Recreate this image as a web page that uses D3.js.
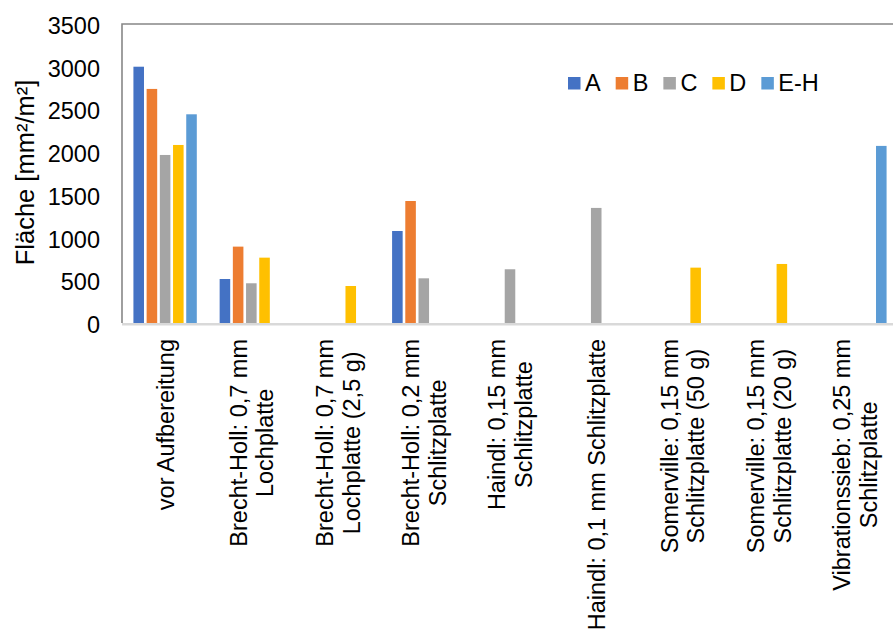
<!DOCTYPE html>
<html>
<head>
<meta charset="utf-8">
<script src="https://cdn.jsdelivr.net/npm/d3@7"></script>
<style>
  html, body { margin: 0; padding: 0; background: #fff; }
  svg { display: block; font-family: "Liberation Sans", Arial, sans-serif; }
</style>
</head>
<body>
<svg id="chart" width="893" height="633"></svg>
<script>
// Categories (line breaks as in the axis labels)
const categories = [
  "vor Aufbereitung",
  "Brecht-Holl: 0,7 mm\nLochplatte",
  "Brecht-Holl: 0,7 mm\nLochplatte (2,5 g)",
  "Brecht-Holl: 0,2 mm\nSchlitzplatte",
  "Haindl: 0,15 mm\nSchlitzplatte",
  "Haindl: 0,1 mm Schlitzplatte",
  "Somerville: 0,15 mm\nSchlitzplatte (50 g)",
  "Somerville: 0,15 mm\nSchlitzplatte (20 g)",
  "Vibrationssieb: 0,25 mm\nSchlitzplatte"
];

const seriesNames = ["A", "B", "C", "D", "E-H"];
const seriesColors = ["#4472C4", "#ED7D31", "#A5A5A5", "#FFC000", "#5B9BD5"];

// Fläche [mm²/m²] per series and category (null = not measured)
const valuesA  = [3000, 515, null, 1077, null, null, null, null, null];
const valuesB  = [2740, 894, null, 1428, null, null, null, null, null];
const valuesC  = [1967, 465, null,  523,  629, 1347, null, null, null];
const valuesD  = [2084, 765,  433, null, null, null,  648,  691, null];
const valuesEH = [2443, null, null, null, null, null, null, null, 2073];

const yTicks = [0, 500, 1000, 1500, 2000, 2500, 3000, 3500];
const yTitle = "Fläche [mm²/m²]";

const seriesValues = [valuesA, valuesB, valuesC, valuesD, valuesEH];

const svg = d3.select("#chart");
const fontSize = 23.5;

const plot = { left: 122, right: 898, top: 24, bottom: 323 };

const x0 = d3.scaleBand()
  .domain(d3.range(categories.length))
  .range([plot.left, plot.right])
  .paddingInner(0).paddingOuter(0);

const x1 = d3.scaleBand()
  .domain(seriesNames)
  .range([0, x0.bandwidth()])
  .paddingInner(0.2)
  .paddingOuter(0.865);

const y = d3.scaleLinear()
  .domain([0, 3500])
  .range([plot.bottom, plot.top]);

// Plot-area frame (top and left edges)
svg.append("path")
  .attr("d", `M${plot.left},${plot.bottom} V${plot.top} H${plot.right}`)
  .attr("fill", "none")
  .attr("stroke", "#878787")
  .attr("stroke-width", 1.6);

// Bars
const groups = svg.append("g").selectAll("g")
  .data(seriesNames)
  .join("g")
  .attr("fill", (d, i) => seriesColors[i]);

groups.selectAll("rect")
  .data((s, si) => seriesValues[si]
    .map((v, ci) => ({ s, ci, v }))
    .filter(d => d.v != null))
  .join("rect")
  .attr("x", d => x0(d.ci) + x1(d.s))
  .attr("width", x1.bandwidth())
  .attr("y", d => y(d.v))
  .attr("height", d => y(0) - y(d.v));

// Category axis line
svg.append("line")
  .attr("x1", plot.left).attr("x2", plot.right)
  .attr("y1", plot.bottom + 1.2).attr("y2", plot.bottom + 1.2)
  .attr("stroke", "#d9d9d9")
  .attr("stroke-width", 2.6);

// Value axis tick labels
const yAxis = d3.axisLeft(y)
  .tickValues(yTicks)
  .tickFormat(d3.format("d"))
  .tickSize(0)
  .tickPadding(0);
const yAxisG = svg.append("g")
  .attr("transform", `translate(100,2)`)
  .call(yAxis);
yAxisG.select(".domain").remove();
yAxisG.selectAll("text")
  .attr("font-size", fontSize)
  .attr("font-family", "Liberation Sans, Arial, sans-serif")
  .attr("fill", "#000");

// Value axis title
svg.append("text")
  .attr("transform", `translate(34,${(plot.top + plot.bottom) / 2 - 1}) rotate(-90)`)
  .attr("text-anchor", "middle")
  .attr("font-size", 25.5)
  .attr("fill", "#000")
  .text(yTitle);

// Rotated category labels, top-aligned below the axis, lines centred on each other
const labelTop = 339;
const lineStep = 26.6;
categories.forEach((label, ci) => {
  const lines = label.split("\n");
  const cx = x0(ci) + x0.bandwidth() / 2;
  const g = svg.append("g")
    .attr("transform", `translate(${cx},${labelTop}) rotate(-90)`);
  const texts = lines.map((line, li) => g.append("text")
    .attr("font-size", fontSize)
    .attr("fill", "#000")
    .attr("text-anchor", "middle")
    .attr("y", 8.7 + (li - (lines.length - 1) / 2) * lineStep)
    .text(line));
  const maxLen = d3.max(texts, t => t.node().getComputedTextLength());
  texts.forEach(t => t.attr("x", -maxLen / 2));
});

// Legend
const legend = svg.append("g").attr("transform", "translate(568,77)");
let lx = 0;
seriesNames.forEach((name, i) => {
  legend.append("rect")
    .attr("x", lx).attr("y", 0)
    .attr("width", 12.5).attr("height", 12.5)
    .attr("fill", seriesColors[i]);
  const t = legend.append("text")
    .attr("x", lx + 17).attr("y", 14)
    .attr("font-size", fontSize)
    .attr("fill", "#000")
    .text(name);
  lx += 17 + t.node().getComputedTextLength() + 15;
});
</script>
</body>
</html>
